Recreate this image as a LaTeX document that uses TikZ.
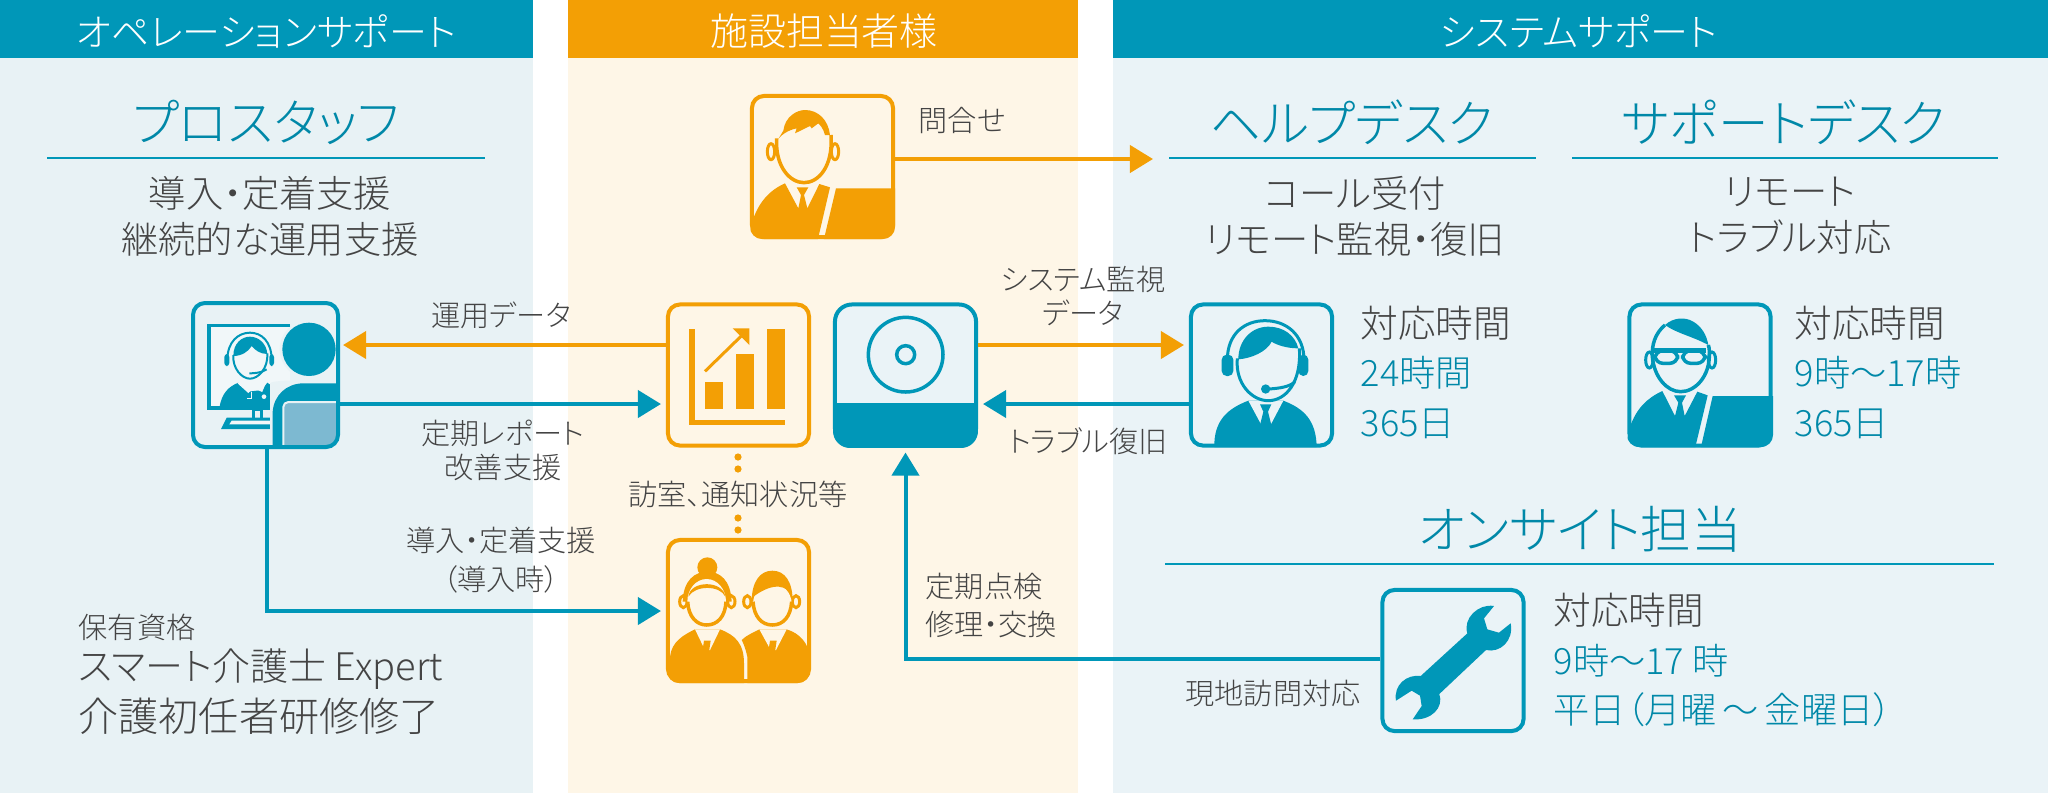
\documentclass[tikz,border=0pt]{standalone}
\usepackage{fontspec}
\setmainfont{Noto Sans CJK JP Light}[RawFeature=+palt]
\usetikzlibrary{arrows.meta}
\definecolor{tealc}{HTML}{0097B8}
\definecolor{tealt}{HTML}{0088A8}
\definecolor{orangec}{HTML}{F39F05}
\definecolor{bgl}{HTML}{E8F2F5}
\definecolor{bgm}{HTML}{FEF6E7}
\definecolor{bgr}{HTML}{EAF3F7}
\definecolor{inkc}{HTML}{444444}
\definecolor{lightb}{HTML}{7DB9D1}
\tikzset{
 x=0.01cm,y=-0.01cm,
 every node/.append style={inner sep=0pt},
 hdr/.style={text=white,font=\fontsize{10.8}{12}\selectfont},
 ttl/.style={text=tealt,font=\fontsize{14.4}{16}\selectfont},
 bodyt/.style={text=inkc,align=center,font=\fontsize{10.6}{13.1}\selectfont},
 lab/.style={text=inkc,align=center,font=\fontsize{8.3}{9.6}\selectfont},
 info/.style={text=inkc,anchor=west,font=\fontsize{10.7}{12}\selectfont},
 infot/.style={text=tealt,anchor=west,font=\fontsize{10.3}{12}\selectfont},
 icon/.style={draw=#1,line width=0.04cm,rounded corners=0.12cm,minimum width=1.41cm,minimum height=1.41cm,inner sep=0pt},
 rule/.style={draw=tealc,line width=0.015cm},
 tarrow/.style={draw=tealc,line width=0.04cm,-{Triangle[length=0.23cm,width=0.27cm]},shorten >=0.05cm},
 oarrow/.style={draw=orangec,line width=0.04cm,-{Triangle[length=0.23cm,width=0.27cm]},shorten >=0.05cm},
 zoomed/.style={x=0.01cm/3,y=-0.01cm/3},
}
\begin{document}
\begin{tikzpicture}
\useasboundingbox (0,0) rectangle (2048,793);
\fill[bgl] (0,0) rectangle (533,793);
\fill[bgm] (568,0) rectangle (1078,793);
\fill[bgr] (1113,0) rectangle (2048,793);
\fill[tealc] (0,0) rectangle (533,58);
\fill[orangec] (568,0) rectangle (1078,58);
\fill[tealc] (1113,0) rectangle (2048,58);
\node[hdr] (h1) at (266,31) {オペレーションサポート};
\node[hdr] (h2) at (824,31) {施設担当者様};
\node[hdr] (h3) at (1579,31) {システムサポート};
% titles
\node[ttl] (t1) at (266,122) {プロスタッフ};
\node[ttl] (t2) at (1352,122) {ヘルプデスク};
\node[ttl] (t3) at (1784,122) {サポートデスク};
\node[ttl] (t4) at (1580,529) {オンサイト担当};
\draw[rule] (47,158) -- (485,158);
\draw[rule] (1169,158) -- (1536,158);
\draw[rule] (1572,158) -- (1998,158);
\draw[rule] (1165,564) -- (1994,564);
\node[bodyt] (b1) at (270,216) {導入・定着支援\\継続的な運用支援};
\node[bodyt] (b2) at (1355,216) {コール受付\\リモート監視・復旧};
\node[bodyt] (b3) at (1790,216) {リモート\\トラブル対応};
% icon boxes
\node[icon=none] (staff) at (265.5,375) {};
\node[icon=orangec] (chart) at (738.5,375) {};
\node[icon=tealc,fill=bgr,rounded corners=0.17cm] (device) at (905.5,375) {};
\node[icon=orangec] (women) at (738.5,610.5) {};
\node[icon=orangec] (asker) at (822.5,166.5) {};
\node[icon=tealc] (help) at (1261.5,375) {};
\node[icon=tealc] (support) at (1700,375) {};
\node[icon=tealc] (wrench) at (1453,660.5) {};
% connectors
\coordinate (ya) at (0,345);
\coordinate (yb) at (0,404);
\coordinate (xs) at (267,0);
\coordinate (yw) at (0,611);
\coordinate (ym) at (0,659);
\coordinate (yq) at (0,159);
\draw[oarrow] (asker.east |- yq) -- (1158,159);
\draw[oarrow] (chart.west |- ya) -- (staff.east |- ya);
\draw[tarrow] (staff.east |- yb) -- (chart.west |- yb);
\draw[tarrow] (xs |- staff.south) -- (xs |- yw) -- (women.west |- yw);
\draw[oarrow] (device.east |- ya) -- (help.west |- ya);
\draw[tarrow] (help.west |- yb) -- (device.east |- yb);
\draw[tarrow] (wrench.west |- ym) -- (device.south |- ym) -- (device.south);
\foreach \yy in {457,469,518,530} \fill[orangec] (738,\yy) circle (3.6);
% labels
\node[lab] (l1) at (962,120) {問合せ};
\node[lab] (l2) at (501,315) {運用データ};
\node[lab] (l3) at (503,450) {定期レポート\\改善支援};
\node[lab,font=\fontsize{8.3}{11.1}\selectfont] (l4) at (501,560) {導入・定着支援\\（導入時）};
\node[lab] (l5) at (738,494) {訪室、通知状況等};
\node[lab] (l6) at (1083,296) {システム監視\\データ};
\node[lab] (l7) at (1088,441) {トラブル復旧};
\node[lab,align=left,anchor=west,font=\fontsize{8.3}{10.8}\selectfont] (l8) at (925,605) {定期点検\\修理・交換};
\node[lab] (l9) at (1273,693) {現地訪問対応};
\node[lab,anchor=west] (q1) at (78,627) {保有資格};
\node[text=inkc,anchor=west,font=\fontsize{10.8}{13}\selectfont] (q2) at (78,669) {スマート介護士 Expert};
\node[text=inkc,anchor=west,font=\fontsize{11.4}{13}\selectfont] (q3) at (78,716) {介護初任者研修修了};
\node[info] (i1) at (1360,323) {対応時間};
\node[infot] (i2) at (1360,373) {24時間};
\node[infot] (i3) at (1360,424) {365日};
\node[info] (i4) at (1794,323) {対応時間};
\node[infot] (i5) at (1794,373) {9時〜17時};
\node[infot] (i6) at (1794,424) {365日};
\node[info] (i7) at (1553,610) {対応時間};
\node[infot] (i8) at (1553,661) {9時〜17 時};
\node[infot] (i9) at (1553,710) {平日（月曜\,〜\,金曜日）};
% device icon
\begin{scope}
\clip[rounded corners=0.17cm] (833,302) rectangle (978,448);
\fill[tealc] (833,403) rectangle (978,448);
\end{scope}
\begin{scope}[shift={(640,280)},zoomed]
\draw[tealc,line width=0.035cm] (797,224) circle (112);
\draw[tealc,line width=0.035cm] (797,224) circle (27);
\end{scope}
% chart icon
\begin{scope}[shift={(640,280)},zoomed,orangec]
\fill (148,148) rectangle (164,436);
\fill (148,420) rectangle (434,436);
\fill (195,306) rectangle (250,388);
\fill (288,222) rectangle (343,388);
\fill (380,148) rectangle (434,388);
\draw[line width=0.03cm] (195,274) -- (312,160);
\fill (278,145) -- (328,145) -- (328,195) -- cycle;
\end{scope}
% women icon
\begin{scope}
\clip[rounded corners=0.12cm] (667,538) rectangle (810,683);
\begin{scope}[shift={(640,280)},zoomed,orangec]
\fill (90,1212) -- (90,1130) .. controls (95,1085) and (130,1065) .. (165,1048) -- (240,1048) .. controls (285,1065) and (312,1090) .. (312,1150) -- (312,1212) -- cycle;
\fill[bgm] (165,1048) -- (240,1048) -- (210,1110) -- (195,1110) -- cycle;
\fill (192,1082) -- (212,1082) -- (206,1122) -- (186,1122) -- cycle;
\fill (322,1212) -- (322,1130) .. controls (315,1100) and (310,1090) .. (305,1080) .. controls (320,1065) and (340,1058) .. (358,1048) -- (440,1048) .. controls (480,1060) and (505,1090) .. (510,1130) -- (510,1212) -- cycle;
\fill[bgm] (358,1048) -- (440,1048) -- (408,1110) -- (392,1110) -- cycle;
\fill (390,1082) -- (410,1082) -- (404,1122) -- (384,1122) -- cycle;
% woman head
\fill (202,862) circle (30);
\fill (128,965) .. controls (130,900) and (165,875) .. (202,875) .. controls (240,875) and (272,900) .. (275,965) -- cycle;
\draw[line width=0.03cm] (130,965) ellipse (11 and 18);
\draw[line width=0.03cm] (274,965) ellipse (11 and 18);
\fill[bgm] (200,965) ellipse (58 and 68);
\draw[line width=0.035cm] (143,965) .. controls (145,1010) and (170,1035) .. (200,1035) .. controls (232,1035) and (256,1010) .. (258,965);
\fill (145,950) .. controls (150,900) and (250,900) .. (256,950) .. controls (240,915) and (165,915) .. (145,950) -- cycle;
% man head
\fill (335,965) .. controls (335,905) and (360,872) .. (397,872) .. controls (435,872) and (458,905) .. (458,965) -- cycle;
\draw[line width=0.03cm] (322,965) ellipse (11 and 18);
\draw[line width=0.03cm] (468,965) ellipse (11 and 18);
\fill[bgm] (397,972) ellipse (58 and 62);
\draw[line width=0.035cm] (339,965) .. controls (342,1010) and (365,1035) .. (397,1035) .. controls (430,1035) and (452,1010) .. (455,965);
\fill (340,950) .. controls (345,925) and (365,905) .. (395,905) .. controls (425,905) and (445,925) .. (453,950) .. controls (445,915) and (400,905) .. (340,950) -- cycle;
\end{scope}
\end{scope}
% asker icon
\begin{scope}
\clip[rounded corners=0.12cm] (750,94) rectangle (895,239);
\begin{scope}[shift={(730,80)},zoomed,orangec]
\fill (318,325) -- (500,325) -- (500,485) -- (280,485) -- cycle;
\fill (55,485) -- (65,430) .. controls (85,365) and (120,330) .. (165,310) -- (205,385) -- (213,345) -- (200,322) -- (235,322) -- (222,345) -- (232,385) -- (268,312) -- (300,322) -- (262,485) -- cycle;
\fill (160,152) .. controls (165,110) and (200,90) .. (225,90) .. controls (265,90) and (295,120) .. (300,165) -- (285,165) .. controls (280,145) and (270,135) .. (265,130) -- (245,145) -- (240,138) -- (195,160) -- (200,145) .. controls (175,150) and (150,165) .. (140,185) -- cycle;
\draw[line width=0.035cm] (140,175) .. controls (135,260) and (180,308) .. (222,308) .. controls (265,308) and (310,260) .. (303,165);
\draw[line width=0.03cm] (123,215) ellipse (11 and 24);
\draw[line width=0.03cm] (315,215) ellipse (11 and 24);
\end{scope}
\end{scope}
% support icon
\begin{scope}
\clip[rounded corners=0.12cm] (1627,303) rectangle (1773,447);
\begin{scope}[shift={(1610,280)},zoomed,tealc]
\fill (308,348) -- (495,348) -- (495,505) -- (272,505) -- cycle;
\fill (45,505) -- (60,440) .. controls (80,385) and (110,355) .. (157,333) -- (195,408) -- (205,368) -- (192,346) -- (228,346) -- (216,368) -- (224,408) -- (262,335) -- (293,346) -- (255,505) -- cycle;
\fill (165,135) .. controls (190,112) and (225,110) .. (250,125) .. controls (275,140) and (290,165) .. (295,195) .. controls (250,170) and (200,160) .. (165,135) -- cycle;
\draw[line width=0.035cm] (165,135) .. controls (135,160) and (125,195) .. (127,230) .. controls (132,290) and (170,335) .. (212,335) .. controls (255,335) and (300,290) .. (298,220) .. controls (298,205) and (297,200) .. (295,195);
\draw[line width=0.03cm] (118,240) ellipse (11 and 24);
\draw[line width=0.03cm] (306,240) ellipse (11 and 24);
\draw[line width=0.035cm,rounded corners=0.08cm] (135,212) rectangle (203,250);
\draw[line width=0.035cm,rounded corners=0.08cm] (218,212) rectangle (285,250);
\draw[line width=0.05cm] (132,212) -- (288,212);
\end{scope}
\end{scope}
% help icon
\begin{scope}
\clip[rounded corners=0.12cm] (1189,303) rectangle (1334,447);
\begin{scope}[shift={(1170,280)},zoomed,tealc]
\fill (133,505) .. controls (130,420) and (175,385) .. (235,362) -- (340,362) .. controls (400,385) and (440,420) .. (440,505) -- cycle;
\fill[bgr] (235,362) -- (340,362) -- (300,438) -- (276,438) -- cycle;
\fill (270,373) -- (304,373) -- (294,395) -- (304,435) -- (287,462) -- (270,435) -- (280,395) -- cycle;
\fill[bgr] (297,250) ellipse (92 and 112);
\draw[line width=0.03cm] (172,240) .. controls (172,160) and (225,122) .. (285,122) .. controls (350,122) and (402,165) .. (402,240);
\fill[rounded corners=0.05cm] (155,224) rectangle (190,288);
\fill[rounded corners=0.05cm] (385,224) rectangle (415,288);
\fill (205,238) .. controls (205,180) and (245,140) .. (295,140) .. controls (340,140) and (375,165) .. (385,205) .. controls (350,205) and (320,195) .. (305,185) .. controls (290,215) and (245,235) .. (205,238) -- cycle;
\draw[line width=0.03cm] (202,235) .. controls (195,310) and (245,362) .. (295,362) .. controls (345,362) and (395,310) .. (388,205);
\draw[line width=0.03cm] (375,305) .. controls (360,320) and (330,325) .. (295,327);
\fill (287,327) circle (14);
\end{scope}
\end{scope}
% wrench icon
\begin{scope}[shift={(1370,570)},zoomed,tealc]
\fill (372,108) .. controls (325,100) and (278,145) .. (292,190) -- (152,318) .. controls (110,312) and (70,345) .. (78,392) -- (125,362) -- (150,377) -- (155,408) -- (128,448) .. controls (185,452) and (222,412) .. (208,372) -- (348,240) .. controls (390,250) and (432,212) .. (422,160) -- (387,188) -- (352,178) -- (342,145) -- cycle;
\end{scope}
% staff icon
\begin{scope}
\clip[rounded corners=0.12cm] (193,303) rectangle (338,447);
\begin{scope}[shift={(170,280)},zoomed,tealc]
\fill[white!40!bgl] (113,133) rectangle (360,388);
\draw[line width=0.035cm] (360,137) -- (117,137) -- (117,384) -- (320,384);
\draw[line width=0.025cm] (250,388) rectangle (274,420);
\fill (170,413) -- (310,413) -- (310,447) -- (153,447) -- cycle;
\fill[white!40!bgl] (185,422) -- (310,422) -- (310,433) -- (178,433) -- cycle;
\fill (148,384) .. controls (155,340) and (175,320) .. (205,308) -- (235,335) -- (275,330) -- (292,308) .. controls (305,315) and (315,330) .. (322,345) -- (322,384) -- cycle;
\draw[white!40!bgl,line width=0.02cm] (205,308) -- (235,335) -- (248,320) -- (275,332) -- (285,308);
\draw[white!40!bgl,line width=0.015cm] (245,335) -- (245,355) -- (232,355);
\fill[white!40!bgl] (282,350) circle (7);
\draw[line width=0.02cm] (172,240) .. controls (172,185) and (205,158) .. (240,158) .. controls (275,158) and (305,185) .. (305,240);
\fill[rounded corners=0.03cm] (163,222) rectangle (178,258);
\fill[rounded corners=0.03cm] (298,222) rectangle (312,258);
\fill (190,228) .. controls (190,190) and (215,170) .. (240,170) .. controls (265,170) and (290,190) .. (292,222) .. controls (270,222) and (255,210) .. (245,198) .. controls (235,215) and (215,228) .. (190,228) -- cycle;
\draw[line width=0.02cm] (190,225) .. controls (187,265) and (215,296) .. (240,296) .. controls (265,296) and (295,265) .. (292,220);
\draw[line width=0.02cm] (290,268) .. controls (275,278) and (255,280) .. (238,280);
\fill[bgl] (300,310) .. controls (305,300) and (400,300) .. (500,300) -- (500,510) -- (300,510) -- cycle;
\fill (308,510) -- (308,395) .. controls (312,345) and (350,310) .. (400,310) -- (500,310) -- (500,510) -- cycle;
\fill[lightb,rounded corners=0.05cm] (340,368) rectangle (510,510);
\draw[bgl,line width=0.02cm,rounded corners=0.05cm] (340,510) -- (340,366) -- (510,366);
\fill[bgl] (417,208) circle (88);
\fill (417,208) circle (80);
\end{scope}
\end{scope}
\draw[tealc,line width=0.04cm,rounded corners=0.12cm] (193,303) rectangle (338,447);
\end{tikzpicture}
\end{document}
